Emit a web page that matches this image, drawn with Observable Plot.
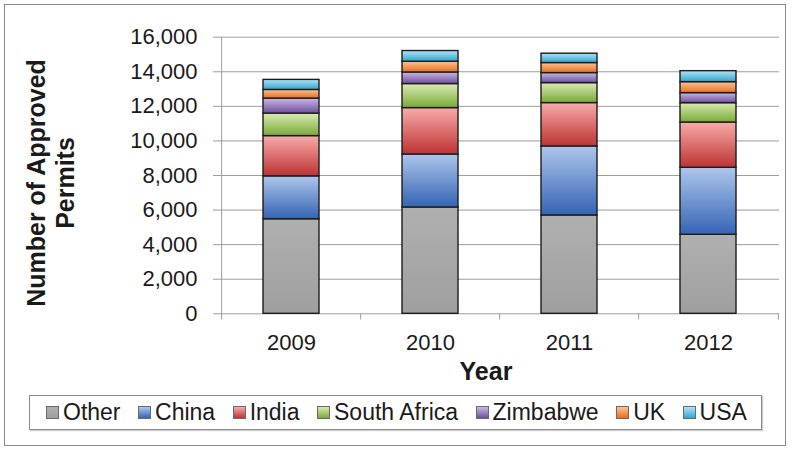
<!DOCTYPE html>
<html>
<head>
<meta charset="utf-8">
<script src="https://cdn.jsdelivr.net/npm/d3@7"></script>
<script src="https://cdn.jsdelivr.net/npm/@observablehq/plot@0.6"></script>
<style>
  html, body { margin: 0; padding: 0; background: #fff; }
  body { width: 792px; height: 452px; overflow: hidden; font-family: "Liberation Sans", Arial, sans-serif; color: #1a1a1a; }
  #wrap { position: relative; width: 792px; height: 452px; }
  #frame { position: absolute; left: 4px; top: 4px; width: 782px; height: 442px; border: 1px solid #8a8a8a; box-sizing: border-box; }
  #chart { position: absolute; left: 0; top: 0; }
  #ytitle { position: absolute; left: 51px; top: 183px; transform: translate(-50%, -50%) rotate(-90deg); font-weight: bold; font-size: 25px; line-height: 29px; text-align: center; white-space: nowrap; }
  #xtitle { position: absolute; left: 486px; top: 359px; transform: translateX(-50%); font-weight: bold; font-size: 25px; line-height: 25px; white-space: nowrap; }
  #legend { position: absolute; left: 29px; top: 395px; width: 733px; height: 35px; border: 1.5px solid #8c8c8c; box-sizing: border-box; display: flex; align-items: center; padding-left: 16px; gap: 17.5px; font-size: 23px; box-shadow: 1px 1px 1px #ccc; }
  .item { display: flex; align-items: center; white-space: nowrap; }
  .sw { width: 11px; height: 11px; border: 1px solid #6a6a6a; margin-right: 4px; }
</style>
</head>
<body>
<div id="wrap">
  <div id="frame"></div>
  <div id="chart"></div>
  <div id="ytitle">Number of Approved<br>Permits</div>
  <div id="xtitle">Year</div>
  <div id="legend"></div>
</div>
<script>
// ---- data ----
const years = ["2009", "2010", "2011", "2012"];
const series = ["Other", "China", "India", "South Africa", "Zimbabwe", "UK", "USA"];
const other       = [5470, 6150, 5690, 4570];
const china       = [2480, 3065, 3990, 3875];
const india       = [2330, 2685, 2510, 2620];
const southAfrica = [1300, 1390, 1155, 1120];
const zimbabwe    = [870, 670, 580, 580];
const uk          = [500, 620, 580, 635];
const usa         = [580, 620, 540, 635];
const yTicks = [0, 2000, 4000, 6000, 8000, 10000, 12000, 14000, 16000];

// ---- styles ----
const gradients = [
  ["#b0b0b0", "#9f9f9f"],
  ["#aec6ec", "#3464b4"],
  ["#f8abab", "#bd3333"],
  ["#d9ebb2", "#79aa38"],
  ["#c9b8e2", "#6f4f9f"],
  ["#fcc294", "#e86f1e"],
  ["#b2e2f5", "#2fa6cf"]
];

const valuesBySeries = [other, china, india, southAfrica, zimbabwe, uk, usa];
const rows = series.flatMap((s, i) => years.map((y, j) => ({year: y, series: s, value: valuesBySeries[i][j]})));

const W = 792, H = 360;
const left = 220, right = 779;
const half = (right - left) / years.length / 2;

const svg = Plot.plot({
  width: W,
  height: H,
  marginLeft: left,
  marginRight: W - right,
  marginTop: 36.7,
  marginBottom: 46.7,
  style: {fontFamily: '"Liberation Sans", Arial, sans-serif', color: "#1a1a1a", background: "transparent", overflow: "visible"},
  x: {domain: years, paddingInner: 0.6, paddingOuter: 0.3, label: null},
  y: {domain: [0, 16000], label: null},
  color: {domain: series, range: series.map((s, i) => `url(#grad${i})`)},
  marks: [
    Plot.ruleY(yTicks, {stroke: "#9d9d9d", strokeWidth: 1}),
    Plot.axisY({ticks: yTicks, tickFormat: d3.format(","), tickSize: 7, tickPadding: 16, fontSize: 22, stroke: "#9d9d9d", fill: "#1a1a1a", label: null}),
    Plot.axisX({tickSize: 0, tickPadding: 21, fontSize: 22, fill: "#1a1a1a", label: null}),
    Plot.barY(rows, {x: "year", y: "value", fill: "series", stroke: "#1c1c1c", strokeWidth: 1.4}),
    Plot.ruleX(years, {x: d => d, y1: -360, y2: d => d === years[0] ? 16000 : 0, dx: -half, stroke: "#9d9d9d", strokeWidth: 1}),
    Plot.ruleX([years[years.length - 1]], {x: d => d, y1: -360, y2: 0, dx: half, stroke: "#9d9d9d", strokeWidth: 1})
  ]
});

const defs = d3.select(svg).insert("defs", ":first-child");
gradients.forEach(([top, bottom], i) => {
  const g = defs.append("linearGradient").attr("id", `grad${i}`).attr("x1", 0).attr("y1", 0).attr("x2", 0).attr("y2", 1);
  g.append("stop").attr("offset", "0%").attr("stop-color", top);
  g.append("stop").attr("offset", "100%").attr("stop-color", bottom);
});
document.getElementById("chart").appendChild(svg);

const legend = d3.select("#legend");
series.forEach((s, i) => {
  const item = legend.append("div").attr("class", "item");
  item.append("div").attr("class", "sw").style("background", `linear-gradient(${gradients[i][0]}, ${gradients[i][1]})`);
  item.append("span").text(s);
});
</script>
</body>
</html>
